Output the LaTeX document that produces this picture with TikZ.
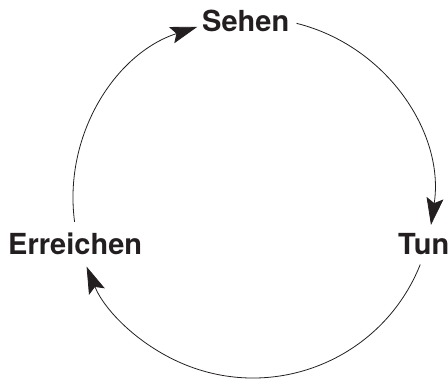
\documentclass[tikz,border=0pt]{standalone}
\usepackage{fontspec}
\setmainfont{TeX Gyre Heros}
\usetikzlibrary{arrows.meta,calc}
\definecolor{ink}{RGB}{35,31,32}
\begin{document}
\begin{tikzpicture}[x=1pt,y=1pt,
  lbl/.style={inner sep=0pt,anchor=base west,text=ink,font=\fontsize{29}{30}\selectfont\bfseries},
  cyc/.style={draw=ink,line width=0.8pt,-{Stealth[length=27pt,width=17pt,inset=5pt]}}]
\useasboundingbox (0,0) rectangle (448,382);
\coordinate (c) at (253,184);
\node[lbl] (sehen) at (202,350) {Sehen};
\node[lbl] (tun) at (398,127) {Tun};
\node[lbl] (erreichen) at (8,127) {Erreichen};
\coordinate (s1) at ($(c)+(76:180)$);
\coordinate (s2) at ($(c)+(-21.7:180)$);
\coordinate (s3) at ($(c)+(187.6:180)$);
\draw[cyc] (s1) arc[start angle=76, end angle=-8.6, radius=180];
\draw[cyc] (s2) arc[start angle=-21.7, end angle=-157.6, radius=180];
\draw[cyc] (s3) arc[start angle=187.6, end angle=108, radius=180];
\end{tikzpicture}
\end{document}
